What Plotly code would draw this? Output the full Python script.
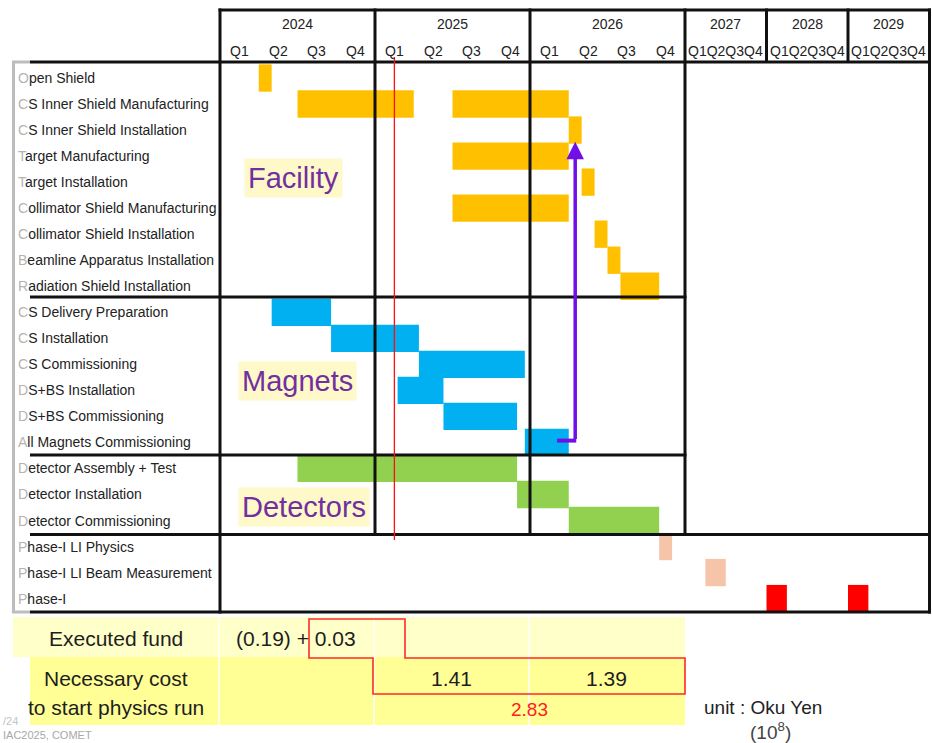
import plotly.graph_objects as go

W, H = 932, 743

# ---------------- schedule data (months counted from January 2024) ----------------
row_labels = [
    "Open Shield",
    "CS Inner Shield Manufacturing",
    "CS Inner Shield Installation",
    "Target Manufacturing",
    "Target Installation",
    "Collimator Shield Manufacturing",
    "Collimator Shield Installation",
    "Beamline Apparatus Installation",
    "Radiation Shield Installation",
    "CS Delivery Preparation",
    "CS Installation",
    "CS Commissioning",
    "DS+BS Installation",
    "DS+BS Commissioning",
    "All Magnets Commissioning",
    "Detector Assembly + Test",
    "Detector Installation",
    "Detector Commissioning",
    "Phase-I LI Physics",
    "Phase-I LI Beam Measurement",
    "Phase-I",
]

years = ["2024", "2025", "2026", "2027", "2028", "2029"]
quarters = ["Q1", "Q2", "Q3", "Q4"]

facility_rows = [0, 1, 1, 2, 3, 4, 5, 6, 7, 8]
facility_start = [3, 6, 18, 27, 18, 28, 18, 29, 30, 31]
facility_end = [4, 15, 27, 28, 27, 29, 27, 30, 31, 34]

magnet_rows = [9, 10, 11, 12, 13, 14]
magnet_start = [4, 8.6, 15.4, 13.75, 17.3, 23.6]
magnet_end = [8.6, 15.4, 23.6, 17.3, 23, 27]

detector_rows = [15, 16, 17]
detector_start = [6, 23, 27]
detector_end = [23, 27, 34]

li_rows = [18, 19]
li_start = [34, 39]
li_end = [35, 42]

phase1_rows = [20, 20]
phase1_start = [48, 60]
phase1_end = [51, 63]

today_month = 13.5

# dependency arrow: All Magnets Commissioning -> CS Inner Shield Installation
dep_from_row, dep_to_row = 14, 2
dep_month, dep_tail_month = 27.5, 26.1

sections = ["Facility", "Magnets", "Detectors"]

executed_fund = "(0.19) + 0.03"
necessary_cost = ["1.41", "1.39"]
total_cost = "2.83"

# ---------------- scales ----------------
X0 = 220.0               # pixel where January 2024 starts
MU = 155.0 / 12.0        # pixels per month (2024-2026)
LATE = 81.5 / 155.0      # compressed width of 2027-2029
ROW0, PITCH = 78.0, 26.03
BAR_H = 1.05


def disp(m):
    return m if m <= 36 else 36 + (m - 36) * LATE


def px(x):
    return x / W


def py(y):
    return 1 - y / H


def xpix(m):
    return X0 + disp(m) * MU


FAC_C = "#FFC000"
MAG_C = "#00B0F0"
DET_C = "#92D050"
LI_C = "#F5C4A9"
PH_C = "#FF0000"
PURPLE = "#7010E6"
LABEL_PURPLE = "#7030A0"
TXT = "#222222"
FONT = "Liberation Sans, Arial, sans-serif"

fig = go.Figure()


def bar_trace(rows, starts, ends, color):
    return go.Bar(
        y=rows,
        base=[disp(s) for s in starts],
        x=[disp(e) - disp(s) for s, e in zip(starts, ends)],
        orientation="h",
        width=[BAR_H] * len(rows),
        marker=dict(color=color, line=dict(width=0)),
        hoverinfo="skip",
        showlegend=False,
    )


fig.add_trace(bar_trace(facility_rows, facility_start, facility_end, FAC_C))
fig.add_trace(bar_trace(magnet_rows, magnet_start, magnet_end, MAG_C))
fig.add_trace(bar_trace(detector_rows, detector_start, detector_end, DET_C))
fig.add_trace(bar_trace(li_rows, li_start, li_end, LI_C))
fig.add_trace(bar_trace(phase1_rows, phase1_start, phase1_end, PH_C))

shapes = []
annotations = []


def text(x, y, s, size, color=TXT, xref="paper", yref="paper", xanchor="center", **kw):
    d = dict(x=x, y=y, xref=xref, yref=yref, text=s, showarrow=False,
             xanchor=xanchor, yanchor="middle",
             font=dict(family=FONT, size=size, color=color))
    d.update(kw)
    annotations.append(d)


# ---------------- cost table background ----------------
shapes.append(dict(type="rect", xref="paper", yref="paper", layer="below",
                   x0=px(13), x1=px(xpix(36)), y0=py(657), y1=py(617),
                   fillcolor="#FFFFCA", line=dict(width=0)))
shapes.append(dict(type="rect", xref="paper", yref="paper", layer="below",
                   x0=px(30), x1=px(xpix(36)), y0=py(725), y1=py(657),
                   fillcolor="#FFFF96", line=dict(width=0)))
for m in (0, 12, 24):
    shapes.append(dict(type="line", xref="paper", yref="paper", layer="below",
                       x0=px(xpix(m) - 1), x1=px(xpix(m) - 1), y0=py(617), y1=py(725),
                       line=dict(color="white", width=1.5)))

# red outline of funded / necessary portions
poly = [(309, 619), (405, 619), (405, 658), (xpix(36), 658), (xpix(36), 694),
        (373, 694), (373, 658), (309, 658)]
path = "M " + " L ".join(f"{px(x):.5f},{py(y):.5f}" for x, y in poly) + " Z"
shapes.append(dict(type="path", xref="paper", yref="paper", path=path,
                   line=dict(color="#FF2A2A", width=1.6), layer="above"))

# ---------------- grid frame ----------------
LW = 3
LC = "#111111"


def hline(y, x0, x1, color=LC, width=LW):
    shapes.append(dict(type="line", xref="paper", yref="paper", layer="above",
                       x0=px(x0), x1=px(x1), y0=py(y), y1=py(y),
                       line=dict(color=color, width=width)))


def vline(m, y0, y1, color=LC, width=LW):
    shapes.append(dict(type="line", xref="x", yref="paper", layer="above",
                       x0=disp(m), x1=disp(m), y0=py(y0), y1=py(y1),
                       line=dict(color=color, width=width)))


right = xpix(72)
mid = xpix(36)
hline(10, X0 - 1.5, right + 1.5)
hline(62, 30, right + 1.5)
hline(297, 30, mid + 1.5)
hline(455, 30, mid + 1.5)
hline(534.5, 30, right + 1.5)
hline(612, 30, right + 1.5)

vline(0, 8.5, 613.5)
for m in (12, 24, 36):
    vline(m, 8.5, 536)
for m in (48, 60):
    vline(m, 8.5, 63)
vline(72, 8.5, 613.5)

# grey frame of the label column
GREY = "#BDBDBD"
shapes.append(dict(type="line", xref="paper", yref="paper", layer="above",
                   x0=px(13.5), x1=px(13.5), y0=py(61), y1=py(613),
                   line=dict(color=GREY, width=3)))
hline(62, 12, 30, GREY)
hline(612, 12, 30, GREY)

# today marker
shapes.append(dict(type="line", xref="x", yref="paper", layer="above",
                   x0=disp(today_month), x1=disp(today_month), y0=py(57), y1=py(540),
                   line=dict(color="#FF1010", width=1.3)))

# dependency arrow foot
shapes.append(dict(type="line", xref="x", yref="y", layer="above",
                   x0=disp(dep_tail_month), x1=disp(dep_month) + 0.08,
                   y0=dep_from_row - 0.07, y1=dep_from_row - 0.07,
                   line=dict(color=PURPLE, width=4)))
annotations.append(dict(
    x=disp(dep_month), y=dep_to_row + 0.45, xref="x", yref="y",
    ax=disp(dep_month), ay=dep_from_row - 0.07, axref="x", ayref="y",
    text="", showarrow=True, arrowhead=2, arrowsize=1.0, arrowwidth=3.5,
    arrowcolor=PURPLE, standoff=0, startstandoff=0,
))

# ---------------- header ----------------
for k, yr in enumerate(years):
    ycen = disp(12 * k) + (disp(12 * k + 12) - disp(12 * k)) / 2
    text(ycen, py(24), yr, 14, xref="x")
    if k < 3:
        for q, ql in enumerate(quarters):
            text(disp(12 * k + 3 * q + 1.5), py(51), ql, 14, xref="x")
    else:
        text(ycen, py(51), "".join(quarters), 14, xref="x")

# ---------------- row labels ----------------
for i, lab in enumerate(row_labels):
    text(px(15.5), i, f"<span style='color:#B4B4B4'>{lab[0]}</span>{lab[1:]}", 14,
         yref="y", xanchor="left")

# ---------------- section titles ----------------
for name, (cx, cy) in zip(sections, [(293, 177.5), (297, 380.5), (303.5, 507)]):
    text(px(cx), py(cy), name, 29, LABEL_PURPLE, bgcolor="#FFF8C8", borderpad=3)

# ---------------- cost table text ----------------
TC = "#1E1E1E"
text(px(116), py(638), "Executed fund", 21, TC)
text(px(296), py(638), executed_fund, 21, TC)
text(px(116), py(678), "Necessary cost", 21, TC)
text(px(116), py(707), "to start physics run", 21, TC)
text(px(451), py(678), necessary_cost[0], 21, TC)
text(px(606), py(678), necessary_cost[1], 21, TC)
text(px(529), py(709), total_cost, 19, "#FF2020")
text(px(763), py(707), "unit : Oku Yen", 19, "#222222")
text(px(770), py(731), "(10<sup>8</sup>)", 19, "#444444")

# slide footer
text(px(1), py(721), "/24", 11, "#C4C4C4", xanchor="left")
text(px(1), py(735), "IAC2025, COMET", 11, "#A8A8A8", xanchor="left")

fig.update_layout(
    width=W, height=H,
    margin=dict(l=0, r=0, t=0, b=0, autoexpand=False),
    paper_bgcolor="white", plot_bgcolor="white",
    barmode="overlay",
    showlegend=False,
    xaxis=dict(range=[-X0 / MU, (W - X0) / MU], visible=False, fixedrange=True),
    yaxis=dict(range=[(H - ROW0) / PITCH, -ROW0 / PITCH], visible=False, fixedrange=True),
    shapes=shapes,
    annotations=annotations,
    hovermode=False,
)

fig.write_html("out.html")
